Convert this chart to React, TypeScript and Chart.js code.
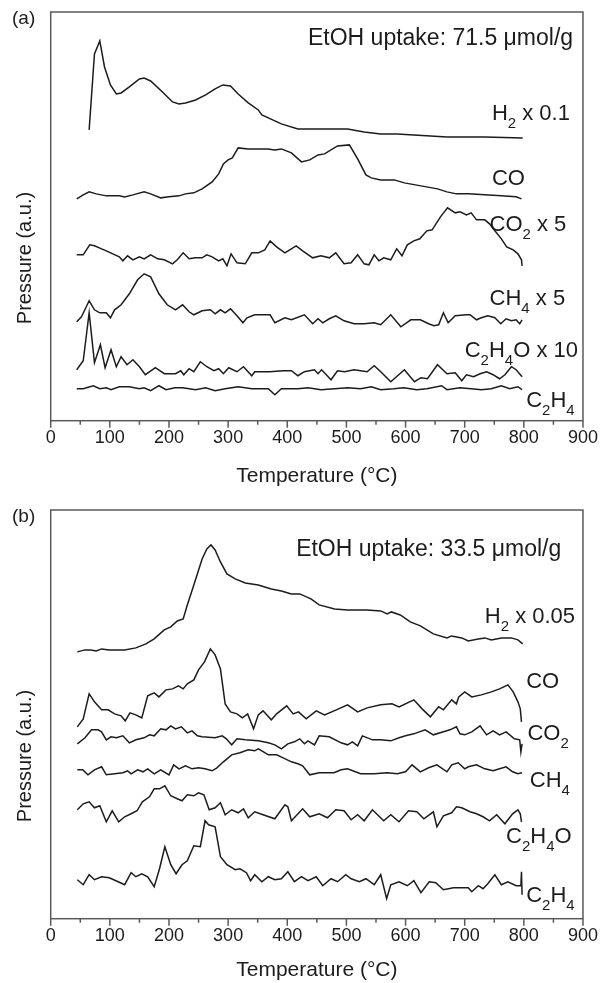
import React, { useEffect, useRef } from "react";
import { Chart, registerables } from "chart.js";

Chart.register(...registerables);

const FONT = '"Liberation Sans", Arial, Helvetica, sans-serif';
const INK = "#1c1c1c";
const FRAME = "#5a5a5a";

const X_MAJOR = [0, 100, 200, 300, 400, 500, 600, 700, 800, 900];
const X_MINOR = [50, 150, 250, 350, 450, 550, 650, 750, 850];

// ---------------- Panel (a): EtOH uptake 71.5 umol/g ----------------
const A_H2_T = [65, 74, 83, 91, 101, 111, 119, 133, 150, 158, 169, 189, 206, 217, 228, 245, 262, 278, 291, 304, 317, 334, 351, 357, 390, 418, 446, 474, 502, 530, 558, 586, 614, 642, 670, 703, 734, 798];
const A_H2 = [291, 367, 380, 354, 336, 327, 328, 334, 342, 343, 340, 329, 319, 317, 318, 321, 326, 332, 336, 335, 327, 318, 311, 306, 297, 292, 292, 292, 292, 289, 287, 287, 286, 285, 284, 284, 284, 283];

const A_CO_T = [44, 55, 65, 77, 94, 116, 125, 139, 158, 169, 186, 200, 217, 228, 242, 256, 273, 284, 292, 300, 307, 317, 334, 351, 367, 379, 390, 407, 424, 438, 452, 463, 485, 505, 519, 533, 542, 558, 581, 598, 626, 654, 670, 686, 706, 734, 762, 787, 796];
const A_CO = [222, 226, 229, 227, 225, 225, 224, 226, 229, 227, 223, 224, 225, 227, 228, 232, 239, 247, 257, 261, 263, 273, 272, 272, 272, 271, 272, 268, 259, 261, 266, 267, 275, 276, 262, 246, 243, 241, 241, 238, 235, 232, 229, 227, 227, 226, 225, 224, 222];

const A_CO2_T = [44, 55, 66, 74, 86, 94, 105, 116, 122, 130, 139, 150, 158, 169, 181, 192, 206, 214, 224, 234, 245, 256, 264, 273, 284, 291, 298, 305, 315, 329, 340, 351, 362, 371, 382, 396, 415, 426, 443, 457, 471, 482, 496, 508, 519, 530, 538, 547, 555, 563, 575, 585, 594, 603, 614, 624, 636, 645, 659, 671, 684, 692, 703, 711, 720, 734, 742, 751, 762, 771, 782, 790, 796, 797];
const A_CO2 = [166, 166, 176, 175, 172, 170, 167, 164, 160, 165, 161, 164, 162, 166, 162, 161, 157, 161, 168, 162, 163, 163, 166, 164, 160, 162, 155, 167, 158, 157, 168, 168, 171, 180, 174, 168, 175, 170, 163, 165, 163, 168, 157, 158, 166, 157, 156, 166, 160, 163, 161, 172, 165, 176, 180, 182, 190, 191, 204, 213, 208, 209, 206, 208, 201, 201, 197, 190, 182, 174, 171, 167, 161, 155];

const A_CH4_T = [44, 52, 65, 74, 83, 94, 101, 108, 119, 133, 147, 158, 169, 183, 197, 211, 223, 234, 242, 256, 270, 278, 287, 295, 304, 315, 325, 332, 345, 371, 379, 396, 407, 429, 443, 452, 460, 471, 482, 496, 513, 530, 547, 558, 575, 592, 609, 625, 639, 648, 656, 664, 672, 684, 703, 709, 720, 728, 739, 751, 761, 770, 779, 787, 793, 797];
const A_CH4 = [99, 104, 120, 111, 108, 108, 103, 111, 116, 127, 141, 147, 144, 127, 116, 111, 116, 109, 106, 110, 111, 107, 111, 108, 112, 105, 98, 103, 106, 106, 98, 103, 101, 106, 97, 102, 98, 102, 105, 100, 97, 97, 98, 96, 106, 94, 101, 101, 97, 95, 96, 108, 98, 105, 106, 106, 101, 103, 105, 103, 97, 102, 100, 101, 97, 101];

const A_C2H4O_T = [44, 55, 65, 74, 84, 92, 102, 111, 119, 129, 139, 150, 160, 177, 192, 211, 220, 225, 234, 242, 253, 264, 276, 284, 292, 301, 315, 326, 340, 345, 370, 393, 407, 418, 429, 446, 452, 458, 466, 474, 485, 497, 513, 535, 547, 558, 575, 598, 615, 626, 637, 654, 670, 684, 695, 703, 715, 726, 737, 748, 759, 768, 779, 787, 797];
const A_C2H4O = [51, 60, 108, 58, 76, 53, 71, 54, 64, 56, 61, 54, 46, 53, 47, 47, 50, 46, 52, 49, 59, 54, 50, 52, 47, 53, 49, 54, 45, 49, 49, 50, 50, 45, 49, 51, 47, 51, 46, 41, 50, 49, 51, 49, 55, 49, 39, 51, 39, 43, 42, 56, 47, 48, 40, 46, 44, 47, 49, 46, 42, 46, 54, 51, 44];

const A_C2H4_T = [44, 55, 72, 83, 94, 102, 116, 133, 150, 158, 169, 183, 195, 210, 223, 245, 262, 278, 295, 317, 340, 357, 368, 379, 390, 418, 435, 457, 480, 502, 524, 542, 558, 580, 597, 619, 636, 661, 670, 692, 711, 728, 745, 762, 776, 790, 797];
const A_C2H4 = [32, 32, 35, 32, 33, 31, 34, 34, 32, 33, 30, 35, 31, 33, 33, 31, 33, 30, 32, 34, 32, 32, 32, 26, 32, 32, 33, 31, 32, 33, 32, 34, 31, 32, 33, 31, 32, 35, 31, 33, 32, 31, 32, 35, 32, 34, 31];

// ---------------- Panel (b): EtOH uptake 33.5 umol/g ----------------
const B_H2_T = [45, 58, 68, 77, 86, 99, 125, 144, 161, 175, 192, 203, 214, 224, 231, 242, 256, 264, 271, 278, 287, 298, 312, 329, 351, 373, 390, 407, 421, 440, 454, 480, 502, 520, 535, 558, 569, 576, 591, 608, 625, 647, 670, 678, 695, 706, 723, 734, 745, 762, 779, 790, 798];
const B_H2 = [267, 269, 269, 268, 270, 269, 269, 271, 275, 280, 289, 292, 298, 300, 314, 334, 360, 370, 374, 369, 357, 345, 340, 336, 334, 330, 328, 325, 325, 320, 314, 310, 309, 309, 309, 308, 305, 307, 304, 297, 293, 285, 281, 283, 281, 278, 280, 281, 279, 281, 281, 279, 275];

const B_CO_T = [45, 55, 65, 74, 86, 97, 108, 119, 126, 134, 144, 154, 164, 175, 183, 195, 206, 216, 224, 231, 242, 250, 260, 270, 278, 287, 295, 304, 315, 324, 333, 343, 351, 359, 373, 382, 399, 410, 419, 432, 449, 463, 483, 502, 519, 535, 558, 577, 589, 614, 628, 642, 656, 664, 678, 686, 690, 700, 712, 728, 745, 759, 773, 782, 790, 794, 796];
const B_CO = [192, 200, 225, 217, 209, 209, 205, 203, 198, 206, 204, 201, 223, 226, 222, 229, 230, 233, 230, 235, 239, 249, 257, 270, 264, 250, 215, 207, 205, 201, 205, 190, 204, 208, 199, 205, 213, 205, 207, 200, 208, 204, 209, 214, 207, 211, 214, 215, 212, 219, 210, 202, 212, 209, 219, 215, 222, 227, 222, 224, 227, 230, 234, 227, 217, 210, 197];

const B_CO2_T = [45, 58, 69, 80, 86, 94, 102, 111, 122, 133, 144, 158, 167, 175, 186, 195, 203, 211, 221, 231, 239, 248, 256, 278, 290, 297, 306, 315, 329, 351, 368, 379, 390, 401, 412, 421, 429, 435, 446, 454, 471, 491, 502, 510, 519, 527, 544, 558, 575, 589, 600, 614, 633, 647, 664, 675, 686, 692, 700, 712, 726, 737, 748, 759, 770, 784, 793, 795, 797];
const B_CO2 = [175, 181, 189, 189, 187, 179, 182, 181, 183, 176, 179, 181, 184, 183, 190, 189, 193, 190, 192, 186, 188, 183, 182, 181, 183, 180, 174, 180, 179, 178, 176, 174, 170, 175, 177, 180, 175, 178, 174, 183, 182, 176, 174, 177, 173, 183, 179, 179, 178, 181, 183, 185, 189, 184, 187, 189, 192, 185, 184, 187, 193, 184, 188, 184, 187, 180, 179, 167, 175];

const B_CH4_T = [45, 54, 63, 74, 86, 94, 108, 122, 130, 136, 147, 156, 164, 175, 186, 200, 208, 217, 228, 239, 250, 261, 273, 281, 292, 306, 320, 334, 345, 351, 357, 368, 382, 393, 407, 418, 426, 438, 454, 468, 479, 491, 502, 524, 547, 569, 586, 600, 611, 625, 639, 653, 670, 678, 689, 700, 706, 720, 734, 748, 759, 770, 781, 790, 797];
const B_CH4 = [149, 149, 144, 149, 152, 144, 145, 146, 148, 145, 149, 147, 150, 145, 149, 144, 154, 150, 153, 150, 151, 150, 148, 151, 157, 164, 166, 169, 168, 170, 168, 164, 164, 161, 157, 155, 153, 144, 146, 146, 146, 149, 150, 145, 145, 146, 145, 147, 154, 147, 151, 154, 147, 154, 156, 150, 152, 154, 150, 148, 150, 152, 147, 145, 146];

const B_C2H4O_T = [45, 55, 65, 74, 83, 94, 104, 115, 125, 136, 146, 155, 167, 175, 184, 193, 203, 214, 222, 231, 242, 250, 259, 268, 278, 287, 295, 306, 317, 326, 334, 345, 359, 379, 396, 401, 407, 426, 438, 454, 468, 482, 496, 508, 519, 530, 544, 563, 575, 589, 605, 619, 631, 647, 653, 664, 678, 686, 695, 709, 720, 731, 742, 754, 768, 781, 790, 794, 796];
const B_C2H4O = [109, 115, 117, 111, 113, 97, 108, 97, 102, 105, 108, 117, 122, 130, 130, 133, 123, 120, 118, 124, 123, 126, 124, 109, 111, 116, 104, 109, 106, 110, 101, 107, 104, 100, 114, 112, 98, 110, 102, 105, 101, 109, 108, 99, 104, 98, 109, 98, 104, 97, 108, 107, 100, 107, 92, 103, 106, 112, 111, 107, 105, 102, 98, 104, 95, 105, 109, 105, 97];

const B_C2H4_T = [45, 55, 65, 74, 86, 99, 114, 125, 136, 144, 154, 164, 175, 184, 193, 203, 212, 222, 231, 242, 253, 261, 267, 278, 287, 298, 312, 320, 331, 338, 345, 357, 368, 379, 390, 401, 412, 424, 435, 449, 460, 474, 485, 499, 508, 522, 533, 547, 558, 568, 575, 589, 603, 614, 626, 640, 651, 664, 681, 695, 706, 712, 723, 731, 739, 751, 762, 773, 787, 795, 796, 797];
const B_C2H4 = [39, 34, 44, 39, 42, 41, 37, 34, 46, 42, 45, 42, 32, 50, 72, 54, 45, 54, 58, 73, 72, 98, 94, 92, 62, 54, 49, 50, 46, 38, 44, 37, 42, 39, 40, 47, 37, 42, 38, 42, 33, 40, 37, 44, 40, 37, 40, 34, 44, 20, 34, 37, 33, 38, 26, 37, 36, 29, 31, 31, 31, 27, 33, 30, 35, 44, 34, 37, 33, 33, 47, 24];

// Label annotations (text, anchored at temperature / a.u. of the left edge & mid-height)
const A_LABEL_TEXT = ["EtOH uptake: 71.5 μmol/g", "H_2 x 0.1", "CO", "CO_2 x 5", "CH_4 x 5", "C_2H_4O x 10", "C_2H_4"];
const A_LABEL_T = [435, 746, 746, 742, 742, 700, 804];
const A_LABEL_V = [384, 309, 244, 198, 124, 72, 22];

const B_LABEL_TEXT = ["EtOH uptake: 33.5 μmol/g", "H_2 x 0.05", "CO", "CO_2", "CH_4", "C_2H_4O", "C_2H_4"];
const B_LABEL_T = [415, 734, 804, 806, 810, 770, 804];
const B_LABEL_V = [371, 304, 239, 187, 140, 84, 25];

type PanelCfg = {
  letter: string;
  height: number;
  padTop: number;
  axisHeight: number;
  titlePadBottom: number;
  yTitleY: number;
  series: { t: number[]; v: number[] }[];
  labelText: string[];
  labelT: number[];
  labelV: number[];
};

const PANEL_A: PanelCfg = {
  letter: "(a)",
  height: 495,
  padTop: 12,
  axisHeight: 74.3,
  titlePadBottom: 6,
  yTitleY: 258,
  series: [
    { t: A_H2_T, v: A_H2 },
    { t: A_CO_T, v: A_CO },
    { t: A_CO2_T, v: A_CO2 },
    { t: A_CH4_T, v: A_CH4 },
    { t: A_C2H4O_T, v: A_C2H4O },
    { t: A_C2H4_T, v: A_C2H4 },
  ],
  labelText: A_LABEL_TEXT,
  labelT: A_LABEL_T,
  labelV: A_LABEL_V,
};

const PANEL_B: PanelCfg = {
  letter: "(b)",
  height: 488,
  padTop: 15,
  axisHeight: 64.3,
  titlePadBottom: 0,
  yTitleY: 261,
  series: [
    { t: B_H2_T, v: B_H2 },
    { t: B_CO_T, v: B_CO },
    { t: B_CO2_T, v: B_CO2 },
    { t: B_CH4_T, v: B_CH4 },
    { t: B_C2H4O_T, v: B_C2H4O },
    { t: B_C2H4_T, v: B_C2H4 },
  ],
  labelText: B_LABEL_TEXT,
  labelT: B_LABEL_T,
  labelV: B_LABEL_V,
};

function drawRich(ctx: CanvasRenderingContext2D, text: string, x: number, yMid: number, size: number) {
  const big = `${size}px ${FONT}`;
  const small = `${Math.round(size * 0.66)}px ${FONT}`;
  const base = yMid + size * 0.358;
  ctx.textBaseline = "alphabetic";
  ctx.textAlign = "left";
  let cx = x;
  let i = 0;
  while (i < text.length) {
    if (text[i] === "_") {
      const ch = text[i + 1];
      ctx.font = small;
      ctx.fillText(ch, cx, base + size * 0.37);
      cx += ctx.measureText(ch).width;
      i += 2;
    } else {
      let j = i;
      while (j < text.length && text[j] !== "_") j++;
      const run = text.slice(i, j);
      ctx.font = big;
      ctx.fillText(run, cx, base);
      cx += ctx.measureText(run).width;
      i = j;
    }
  }
}

function decorPlugin(cfg: PanelCfg) {
  return {
    id: "decor",
    afterDraw(chart: any) {
      const { ctx, chartArea: a, scales } = chart;
      const x = scales.x;
      const y = scales.y;
      ctx.save();
      // frame
      ctx.strokeStyle = FRAME;
      ctx.lineWidth = 1.5;
      ctx.strokeRect(a.left, a.top, a.right - a.left, a.bottom - a.top);
      // ticks
      ctx.beginPath();
      for (const v of X_MAJOR) {
        const px = x.getPixelForValue(v);
        ctx.moveTo(px, a.bottom);
        ctx.lineTo(px, a.bottom + 7);
      }
      for (const v of X_MINOR) {
        const px = x.getPixelForValue(v);
        ctx.moveTo(px, a.bottom);
        ctx.lineTo(px, a.bottom + 4);
      }
      ctx.stroke();
      // labels
      ctx.fillStyle = INK;
      cfg.labelText.forEach((s, i) => {
        const size = i === 0 ? 23 : 22;
        drawRich(ctx, s, x.getPixelForValue(cfg.labelT[i]), y.getPixelForValue(cfg.labelV[i]), size);
      });
      // panel letter
      ctx.font = `19px ${FONT}`;
      ctx.textAlign = "left";
      ctx.textBaseline = "middle";
      ctx.fillText(cfg.letter, 12, cfg.padTop + 7);
      // y title
      ctx.save();
      ctx.translate(25, cfg.yTitleY);
      ctx.rotate(-Math.PI / 2);
      ctx.font = `20px ${FONT}`;
      ctx.textAlign = "center";
      ctx.textBaseline = "middle";
      ctx.fillText("Pressure (a.u.)", 0, 0);
      ctx.restore();
      ctx.restore();
    },
  };
}

function Panel({ cfg }: { cfg: PanelCfg }) {
  const ref = useRef<HTMLCanvasElement | null>(null);
  useEffect(() => {
    if (!ref.current) return;
    const chart = new Chart(ref.current, {
      type: "line",
      data: {
        datasets: cfg.series.map((s) => ({
          data: s.t.map((t, i) => ({ x: t, y: s.v[i] })),
          borderColor: INK,
          borderWidth: 1.5,
          pointRadius: 0,
          tension: 0,
          fill: false,
        })),
      },
      options: {
        responsive: false,
        animation: false,
        events: [],
        layout: { padding: { left: 50.7, right: 17.5, top: cfg.padTop, bottom: 0 } },
        plugins: { legend: { display: false }, tooltip: { enabled: false } },
        scales: {
          x: {
            type: "linear",
            min: 0,
            max: 900,
            afterFit: (s: any) => {
              s.height = cfg.axisHeight;
            },
            ticks: {
              stepSize: 100,
              color: INK,
              padding: 7,
              maxRotation: 0,
              font: { family: FONT, size: 18 },
            },
            grid: { drawOnChartArea: false, drawTicks: false },
            border: { display: false },
            title: {
              display: true,
              text: "Temperature (°C)",
              color: INK,
              font: { family: FONT, size: 21 },
              padding: { top: 0, bottom: cfg.titlePadBottom },
            },
          },
          y: { type: "linear", min: 0, max: 409, display: false },
        },
      },
      plugins: [decorPlugin(cfg)],
    } as any);
    return () => chart.destroy();
  }, [cfg]);
  return <canvas ref={ref} width={605} height={cfg.height} style={{ display: "block" }} />;
}

export default function App() {
  return (
    <div style={{ position: "absolute", left: 0, top: 0, width: 605, height: 983, background: "#fff" }}>
      <Panel cfg={PANEL_A} />
      <Panel cfg={PANEL_B} />
    </div>
  );
}
